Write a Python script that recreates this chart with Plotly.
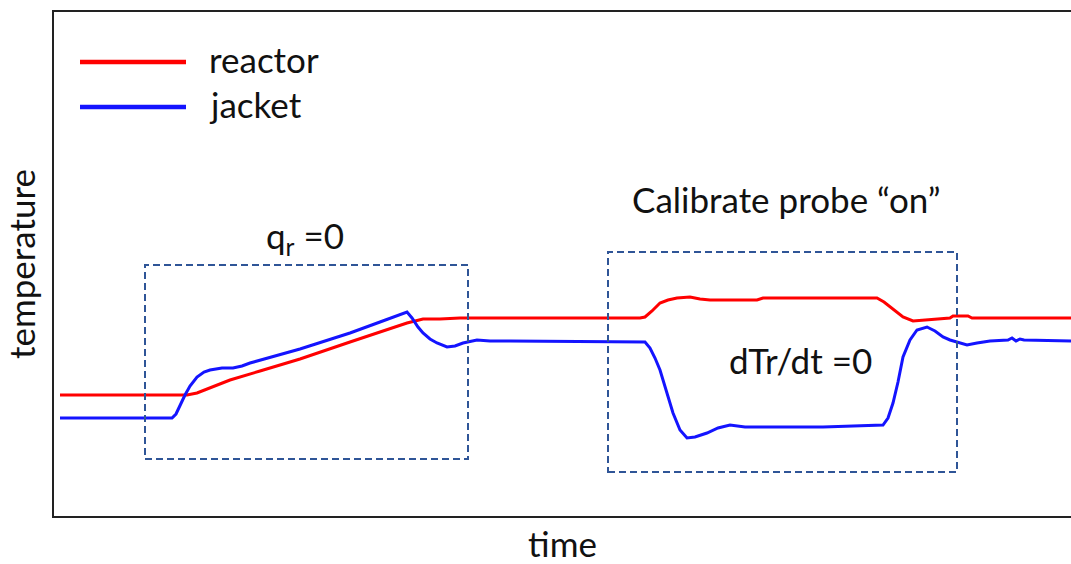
import plotly.graph_objects as go

# time / temperature values (arbitrary units)
reactor_time = [6, 133, 143, 161, 176, 206, 246, 296, 326, 353, 369, 386, 406, 586, 591, 598, 606, 614,
                623, 636, 646, 656, 703, 709, 766, 823, 830, 836, 843, 849, 859, 871, 886, 896, 899,
                914, 918, 1017]
reactor_temp = [121, 121, 123, 130, 136, 145, 157, 174, 184, 193, 197, 197, 198, 198, 199, 205, 213, 216,
                218, 219, 217, 216, 216, 218, 218, 218, 214, 209, 204, 199, 195, 196, 197, 198, 200,
                200, 198, 198]

jacket_time = [6, 118, 122, 126, 131, 136, 143, 150, 156, 168, 179, 188, 196, 246, 296, 326, 353, 358,
               364, 369, 376, 383, 393, 401, 409, 423, 436, 456, 591, 596, 601, 606, 613, 619, 626,
               633, 641, 653, 664, 676, 691, 709, 769, 829, 834, 839, 844, 849, 856, 863, 873, 881,
               889, 896, 903, 913, 923, 936, 954, 958, 962, 966, 970, 1017]
jacket_temp = [98, 98, 102, 111, 121, 130, 139, 144, 146, 148, 148, 150, 153, 167, 183, 194, 204, 198,
               189, 183, 177, 173, 169, 170, 173, 176, 175, 175, 174, 168, 158, 146, 123, 103, 86,
               78, 79, 83, 88, 91, 89, 89, 89, 91, 98, 113, 134, 159, 176, 186, 189, 185,
               179, 176, 174, 171, 173, 175, 176, 178, 175, 177, 176, 175]

series_names = ["reactor", "jacket"]
series_colors = ["#ff0000", "#1414ff"]

# annotated regions: (t0, t1, T0, T1)
region_qr = (91, 414, 57, 251)
region_cal = (554, 903, 44, 264)

FONT = "Lato"
TXT = 35

fig = go.Figure()
fig.add_trace(go.Scatter(x=reactor_time, y=reactor_temp, mode="lines", name=series_names[0],
                         line=dict(color=series_colors[0], width=3), showlegend=False))
fig.add_trace(go.Scatter(x=jacket_time, y=jacket_temp, mode="lines", name=series_names[1],
                         line=dict(color=series_colors[1], width=3), showlegend=False))

box_color = "#2f5597"
for (t0, t1, T0, T1) in (region_qr, region_cal):
    fig.add_shape(type="rect", x0=t0, x1=t1, y0=T0, y1=T1, xref="x", yref="y",
                  line=dict(color=box_color, width=2, dash="7px,4px"))

# manual legend (long line samples)
leg_y = [454, 409]
for name, col, yy in zip(series_names, series_colors, leg_y):
    fig.add_shape(type="line", x0=26, x1=132, y0=yy, y1=yy, xref="x", yref="y",
                  line=dict(color=col, width=4.5))
    fig.add_annotation(x=153, y=yy + 3, xref="x", yref="y", text=name, showarrow=False,
                       xanchor="left", yanchor="middle", font=dict(family=FONT, size=TXT, color="#111"))

fig.add_annotation(x=251, y=279, text="q<sub>r</sub> =0", showarrow=False,
                   font=dict(family=FONT, size=TXT, color="#111"))
fig.add_annotation(x=732, y=317, text="Calibrate probe \u201con\u201d", showarrow=False,
                   font=dict(family=FONT, size=TXT, color="#111"))
fig.add_annotation(x=746, y=156, text="dTr/dt =0", showarrow=False,
                   font=dict(family=FONT, size=TXT, color="#111"))

fig.update_layout(
    width=1071, height=564,
    margin=dict(l=54, r=0, t=12, b=48),
    paper_bgcolor="white", plot_bgcolor="white",
    font=dict(family=FONT, size=TXT, color="#111"),
)
fig.update_xaxes(range=[0, 1017], showgrid=False, zeroline=False, showticklabels=False, ticks="",
                 showline=True, mirror=True, linecolor="#222", linewidth=2, automargin=False,
                 title=dict(text="time", standoff=25, font=dict(family=FONT, size=TXT, color="#111")))
fig.update_yaxes(range=[0, 504], showgrid=False, zeroline=False, showticklabels=False, ticks="",
                 showline=True, mirror=False, linecolor="#222", linewidth=2, automargin=False,
                 title=dict(text="temperature", standoff=12, font=dict(family=FONT, size=TXT, color="#111")))

fig.write_html("out.html")
